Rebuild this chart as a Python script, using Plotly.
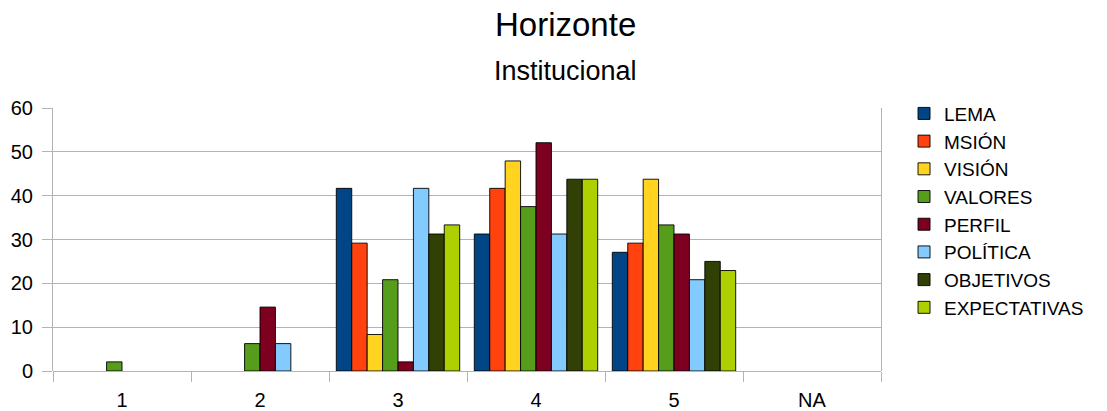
import plotly.graph_objects as go

# Response categories on the horizontal axis
categories = ["1", "2", "3", "4", "5", "NA"]

# Percentage of answers per item and category
lema = [0, 0, 41.67, 31.25, 27.08, 0]
mision = [0, 0, 29.17, 41.67, 29.17, 0]
vision = [0, 0, 8.33, 47.92, 43.75, 0]
valores = [2.08, 6.25, 20.83, 37.5, 33.33, 0]
perfil = [0, 14.58, 2.08, 52.08, 31.25, 0]
politica = [0, 6.25, 41.67, 31.25, 20.83, 0]
objetivos = [0, 0, 31.25, 43.75, 25.0, 0]
expectativas = [0, 0, 33.33, 43.75, 22.92, 0]

series_names = ["LEMA", "MSIÓN", "VISIÓN", "VALORES", "PERFIL", "POLÍTICA", "OBJETIVOS", "EXPECTATIVAS"]
series_values = [lema, mision, vision, valores, perfil, politica, objetivos, expectativas]
series_colors = ["#004586", "#ff420e", "#ffd320", "#579d1c", "#7e0021", "#83caff", "#314004", "#aecf00"]

FONT = "Liberation Sans, Arial, sans-serif"
GRID = "#b3b3b3"

fig = go.Figure()
for name, vals, col in zip(series_names, series_values, series_colors):
    fig.add_trace(go.Bar(
        x=categories,
        # empty cells are left undrawn so no outline shows on the baseline
        y=[v if v else None for v in vals],
        name=name,
        marker=dict(color=col, line=dict(color="rgba(0,0,0,0.9)", width=1)),
    ))

fig.update_layout(
    width=1107,
    height=411,
    margin=dict(l=53, r=226, t=108, b=40),
    paper_bgcolor="white",
    plot_bgcolor="white",
    barmode="group",
    bargap=0.106,
    bargroupgap=0,
    font=dict(family=FONT, size=19, color="#000000"),
    showlegend=True,
    legend=dict(
        x=1.0278, xref="paper", xanchor="left",
        y=0.610, yanchor="middle",
        font=dict(family=FONT, size=19, color="#000000"),
        tracegroupgap=0,
        itemwidth=30,
    ),
    annotations=[
        dict(text="Horizonte", xref="paper", yref="paper", x=0.6184, y=1.3156,
             xanchor="center", yanchor="middle", showarrow=False,
             font=dict(family=FONT, size=33, color="#000000")),
        dict(text="Institucional", xref="paper", yref="paper", x=0.6184, y=1.1388,
             xanchor="center", yanchor="middle", showarrow=False,
             font=dict(family=FONT, size=27, color="#000000")),
    ],
)

fig.update_xaxes(
    type="category",
    categoryorder="array",
    categoryarray=categories,
    showgrid=False,
    tickson="boundaries",
    ticks="outside",
    ticklen=10,
    tickwidth=1,
    tickcolor=GRID,
    showline=False,
    automargin=False,
    ticklabelstandoff=15,
    tickfont=dict(family=FONT, size=20, color="#000000"),
)

fig.update_yaxes(
    range=[0, 60],
    dtick=10,
    showgrid=True,
    gridcolor=GRID,
    gridwidth=1,
    zeroline=True,
    zerolinecolor=GRID,
    zerolinewidth=1,
    showline=True,
    mirror=True,
    linecolor=GRID,
    linewidth=1,
    ticks="outside",
    ticklen=10,
    tickcolor=GRID,
    automargin=False,
    ticklabelstandoff=5,
    tickfont=dict(family=FONT, size=20, color="#000000"),
)

fig.write_html("out.html")
